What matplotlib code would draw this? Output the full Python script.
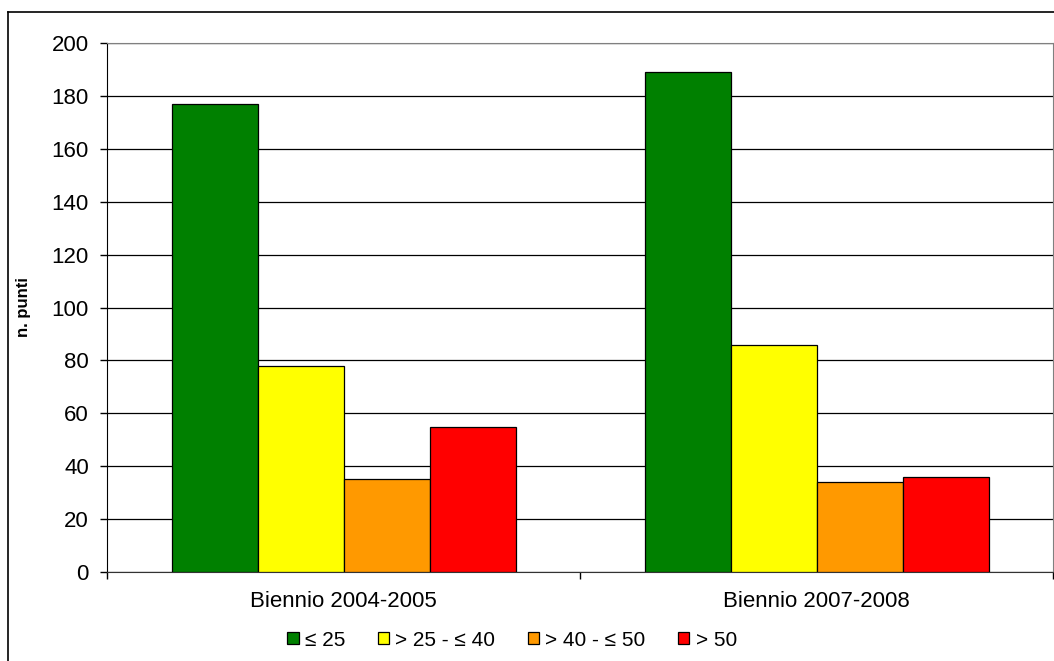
import numpy as np
import matplotlib.pyplot as plt
from matplotlib.lines import Line2D

plt.rcParams['font.family'] = ['Liberation Sans', 'DejaVu Sans']

# data
periodi = ["Biennio 2004-2005", "Biennio 2007-2008"]
classi = ["≤ 25", "> 25 - ≤ 40", "> 40 - ≤ 50", "> 50"]
colori = ["#008000", "#FFFF00", "#FF9900", "#FF0000"]
valori = [
    [177, 189],   # <= 25
    [78, 86],     # > 25 - <= 40
    [35, 34],     # > 40 - <= 50
    [55, 36],     # > 50
]

fig = plt.figure(figsize=(10.54, 6.61), dpi=100)
ax = fig.add_axes([107 / 1054, 89 / 661, 946 / 1054, 529 / 661])

x = np.arange(len(periodi))
w = 86 / 473
for i, (lab, col, vals) in enumerate(zip(classi, colori, valori)):
    ax.bar(x + (i - 1.5) * w, vals, w, color=col, edgecolor="black",
           linewidth=0.9, label=lab, zorder=3)

ax.set_xlim(-0.5, 1.5)
ax.set_ylim(0, 200)
ax.set_yticks(range(0, 201, 20))
ax.yaxis.grid(True, color="black", linewidth=0.9, zorder=0)

# category separators as major ticks, labels on minor ticks
ax.set_xticks([-0.5, 0.5, 1.5])
ax.set_xticklabels([])
ax.set_xticks(x, minor=True)
ax.set_xticklabels(periodi, minor=True, fontsize=16)
ax.tick_params(axis="x", which="major", length=5, width=1, direction="out")
ax.tick_params(axis="x", which="minor", length=0, pad=14)
ax.tick_params(axis="y", length=5, width=1, direction="out", pad=8, labelsize=16)

for s in ["top", "right"]:
    ax.spines[s].set_color("#808080")
ax.spines["left"].set_color("black")
ax.spines["bottom"].set_color("#333333")

ax.set_ylabel("n. punti", fontsize=12, fontweight="bold")
ax.yaxis.set_label_coords(-0.08, 0.5)

ax.legend(loc="center", bbox_to_anchor=(512 / 1054, 21 / 661),
          bbox_transform=fig.transFigure, ncol=4, frameon=False,
          fontsize=15, handlelength=0.55, handleheight=0.55,
          handletextpad=0.3, columnspacing=1.55, borderaxespad=0)

# outer chart border (cut off at right and bottom)
fig.add_artist(Line2D([8 / 1054, 8 / 1054], [0, 1 - 12 / 661],
                      transform=fig.transFigure, color="black", linewidth=1.2))
fig.add_artist(Line2D([8 / 1054, 1], [1 - 12 / 661, 1 - 12 / 661],
                      transform=fig.transFigure, color="black", linewidth=1.2))

fig.savefig("out.png", dpi=100)
